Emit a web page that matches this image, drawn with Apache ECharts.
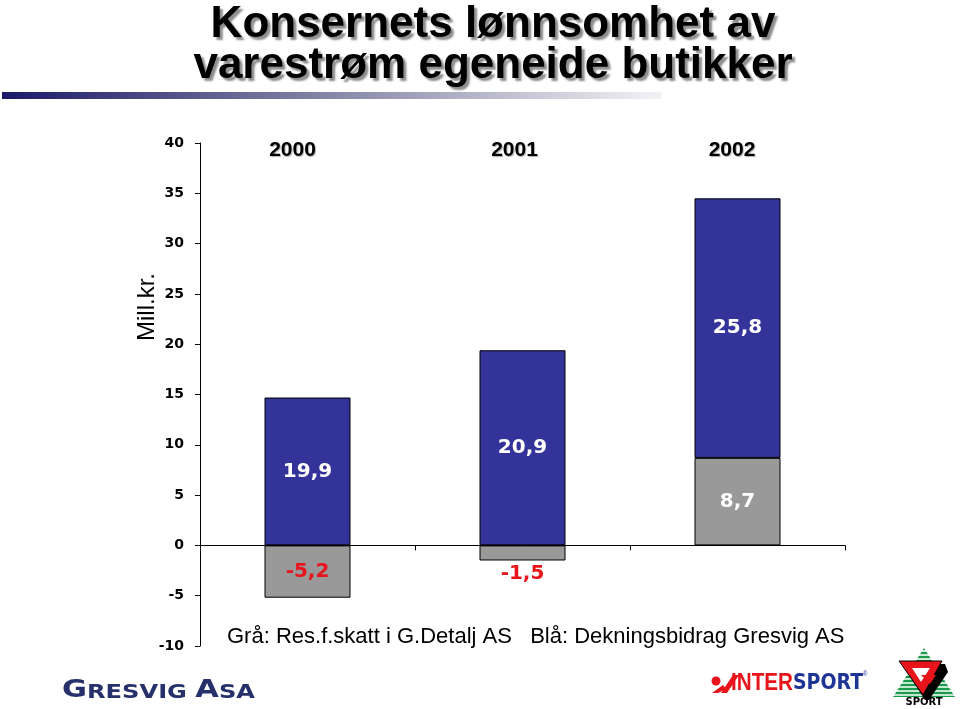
<!DOCTYPE html>
<html>
<head>
<meta charset="utf-8">
<script src="https://cdn.jsdelivr.net/npm/echarts@6/dist/echarts.min.js"></script>
<style>html,body{margin:0;padding:0;background:#fff}#c{width:960px;height:709px}</style>
</head>
<body>
<div id="c"></div>
<script>
const categories = ['2000', '2001', '2002'];
const greyValues = [-5.2, -1.5, 8.7];   // Grå: Res.f.skatt i G.Detalj AS
const blueValues = [19.9, 20.9, 25.8];  // Blå: Dekningsbidrag Gresvig AS
const yMin = -10, yMax = 40, yStep = 5;

const fmt = v => v.toFixed(1).replace('.', ',');
const RED = '#e8141b';

// blue bar is drawn on top of the positive part; a negative grey value eats into it
const blueVisible = blueValues.map((b, i) => +(b + Math.min(greyValues[i], 0)).toFixed(2));

const greyData = greyValues.map(v => ({
  value: v,
  label: {
    position: (v < 0 && Math.abs(v) < 3) ? 'bottom' : 'inside',
    distance: 3,
    color: v < 0 ? RED : '#fff'
  }
}));
const blueData = blueVisible.map((v, i) => ({ value: v, orig: blueValues[i] }));

const yearPad = [[0, 30, 0, 0], [0, 16, 0, 0], [0, 11, 0, 0]];

const chart = echarts.init(document.getElementById('c'), null, { renderer: 'canvas' });

// sport logo stripes
const triTop = [924, 648], triL = [893, 697], triR = [955, 697];
const stripes = [];
for (let y = 651; y < 697; y += 4) {
  const t = (y - triTop[1]) / (triL[1] - triTop[1]);
  const x1 = triTop[0] + (triL[0] - triTop[0]) * t;
  const x2 = triTop[0] + (triR[0] - triTop[0]) * t;
  stripes.push({ type: 'line', shape: { x1: x1 - 1, y1: y, x2: x2 + 1, y2: y }, style: { stroke: '#fff', lineWidth: 1.6 }, z: 11 });
}

chart.setOption({
  animation: false,
  backgroundColor: '#fff',
  title: {
    text: 'Konsernets lønnsomhet av\nvarestrøm egeneide butikker',
    left: 488,
    textAlign: 'center',
    top: -1,
    textStyle: {
      fontFamily: 'Liberation Sans, Arial, sans-serif',
      fontWeight: 'bold',
      fontSize: 44,
      lineHeight: 41,
      color: '#000',
      textShadowColor: 'rgba(0,0,0,0.45)',
      textShadowOffsetX: 3,
      textShadowOffsetY: 3,
      textShadowBlur: 2
    }
  },
  grid: { left: 200, right: 115, top: 143, bottom: 63 },
  xAxis: [
    {
      type: 'category',
      data: categories,
      position: 'bottom',
      axisLine: { onZero: true, lineStyle: { color: '#000', width: 1 } },
      axisTick: { show: true, length: 5, lineStyle: { color: '#000' } },
      axisLabel: { show: false }
    },
    {
      type: 'category',
      data: categories.map((c, i) => ({ value: c, textStyle: { padding: yearPad[i] } })),
      position: 'top',
      axisLine: { show: false },
      axisTick: { show: false },
      axisLabel: {
        inside: true,
        margin: -3,
        fontFamily: 'Liberation Sans, Arial, sans-serif',
        fontWeight: 'bold',
        fontSize: 21,
        color: '#000',
        textShadowColor: 'rgba(0,0,0,0.3)',
        textShadowOffsetX: 1,
        textShadowOffsetY: 1,
        textShadowBlur: 1
      }
    }
  ],
  yAxis: {
    type: 'value',
    min: yMin,
    max: yMax,
    interval: yStep,
    axisLine: { show: true, lineStyle: { color: '#000', width: 1 } },
    axisTick: { show: true, length: 5, lineStyle: { color: '#000' } },
    splitLine: { show: false },
    axisLabel: {
      margin: 16,
      fontFamily: 'DejaVu Sans, sans-serif',
      fontWeight: 'bold',
      fontSize: 14,
      color: '#000'
    }
  },
  series: [
    {
      name: 'Grå',
      type: 'bar',
      stack: 'total',
      barWidth: '40%',
      data: greyData,
      itemStyle: { color: '#999999', borderColor: '#000', borderWidth: 1 },
      label: {
        show: true,
        formatter: p => fmt(p.value),
        fontFamily: 'DejaVu Sans, sans-serif',
        fontWeight: 'bold',
        fontSize: 20
      }
    },
    {
      name: 'Blå',
      type: 'bar',
      stack: 'total',
      barWidth: '40%',
      data: blueData,
      itemStyle: { color: '#333399', borderColor: '#000', borderWidth: 1 },
      label: {
        show: true,
        position: 'inside',
        formatter: p => fmt(p.data.orig),
        color: '#fff',
        fontFamily: 'DejaVu Sans, sans-serif',
        fontWeight: 'bold',
        fontSize: 20
      }
    }
  ],
  graphic: [
    {
      type: 'rect', shape: { x: 2, y: 92, width: 660, height: 7 },
      style: {
        fill: new echarts.graphic.LinearGradient(0, 0, 1, 0, [
          { offset: 0, color: '#1a1a6a' },
          { offset: 0.45, color: '#7c7ca0' },
          { offset: 1, color: '#f2f2f6' }
        ])
      }
    },
    {
      type: 'text', x: 147, y: 307, rotation: Math.PI / 2,
      style: { text: 'Mill.kr.', fontFamily: 'Liberation Sans, Arial, sans-serif', fontSize: 24, fill: '#000', align: 'center', verticalAlign: 'middle' }
    },
    {
      type: 'text', x: 227, y: 637,
      style: { text: 'Grå: Res.f.skatt i G.Detalj AS   Blå: Dekningsbidrag Gresvig AS', fontFamily: 'Liberation Sans, Arial, sans-serif', fontSize: 22, fill: '#000', align: 'left', verticalAlign: 'middle' }
    },
    {
      type: 'text', x: 62, y: 691, scaleX: 1.27,
      style: {
        text: '{b|G}{s|RESVIG }{b|A}{s|SA}',
        verticalAlign: 'middle',
        rich: {
          b: { fontFamily: 'DejaVu Sans, sans-serif', fontWeight: 'bold', fontSize: 24, fill: '#26306a', verticalAlign: 'bottom' },
          s: { fontFamily: 'DejaVu Sans, sans-serif', fontWeight: 'bold', fontSize: 19, fill: '#26306a', verticalAlign: 'bottom' }
        }
      }
    },
    // INTERSPORT logo
    { type: 'circle', shape: { cx: 716, cy: 681, r: 4.5 }, style: { fill: RED } },
    { type: 'polygon', shape: { points: [[721, 693], [733, 675], [739, 675], [727, 693]] }, style: { fill: RED } },
    { type: 'polygon', shape: { points: [[712, 693], [723, 685], [726, 689], [718, 693]] }, style: { fill: RED } },
    {
      type: 'text', x: 731, y: 683, scaleX: 0.86,
      style: {
        text: '{r|INTER}{b|SPORT}{t|®}',
        verticalAlign: 'middle',
        rich: {
          r: { fontFamily: 'Liberation Sans, Arial, sans-serif', fontWeight: 'bold', fontSize: 24, fill: RED },
          b: { fontFamily: 'DejaVu Sans, sans-serif', fontWeight: 'bold', fontSize: 22, fill: '#1f3596' },
          t: { fontFamily: 'Liberation Sans, Arial, sans-serif', fontSize: 7, fill: '#1f3596', verticalAlign: 'top' }
        }
      }
    },
    // Sport logo
    { type: 'polygon', shape: { points: [triTop, triR, triL] }, style: { fill: '#1a9a4a' }, z: 10 },
    ...stripes,
    { type: 'polygon', shape: { points: [[902, 664], [945, 664], [948, 672], [929, 700], [925, 700]] }, style: { fill: '#000' }, z: 12 },
    { type: 'polygon', shape: { points: [[899, 661], [942, 661], [923, 695]] }, style: { fill: RED, stroke: '#000', lineWidth: 1 }, z: 13 },
    { type: 'polygon', shape: { points: [[912, 668], [930, 668], [921, 682]] }, style: { fill: '#fff' }, z: 14 },
    { type: 'polygon', shape: { points: [[921, 675], [936, 675], [930, 684]] }, style: { fill: RED }, z: 15 },
    {
      type: 'text', x: 924, y: 702, z: 16,
      style: { text: 'SPORT', fontFamily: 'DejaVu Sans, sans-serif', fontWeight: 'bold', fontSize: 10, fill: '#000', align: 'center', verticalAlign: 'middle' }
    }
  ]
});
</script>
</body>
</html>
